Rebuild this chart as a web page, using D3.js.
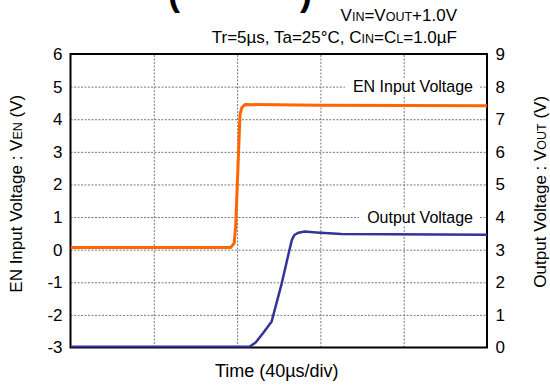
<!DOCTYPE html>
<html>
<head>
<meta charset="utf-8">
<script src="https://cdn.jsdelivr.net/npm/d3@7"></script>
<style>
  body { margin: 0; background: #fff; }
  svg { font-family: "Liberation Sans", Arial, sans-serif; }
</style>
</head>
<body>
<div class="chart"></div>
<script>
// time axis (us), 40us/div
var timeTicks = [0, 40, 80, 120, 160, 200];
var enTicks = [-3, -2, -1, 0, 1, 2, 3, 4, 5, 6];
var outTicks = [0, 1, 2, 3, 4, 5, 6, 7, 8, 9];

// EN input voltage (left axis)
var enTime = [0, 77, 78.6, 79.3, 81.4, 82.3, 83.8, 120, 200];
var enVolt = [0.07, 0.07, 0.2, 0.7, 4.15, 4.36, 4.45, 4.43, 4.41];

// output voltage (right axis)
var outTime = [0, 86, 89, 92.6, 96.6, 101.4, 105.1, 106.3, 107.5, 109.5, 112.5, 118, 130, 200];
var outVolt = [0.02, 0.02, 0.16, 0.45, 0.8, 1.96, 2.98, 3.3, 3.45, 3.52, 3.56, 3.53, 3.48, 3.46];

var svgWidth = 550;
var svgHeight = 385;

var margin = {
  top: 54,
  right: 63,
  bottom: 37.5,
  left: 70.5
};

var width = svgWidth - margin.left - margin.right;
var height = svgHeight - margin.top - margin.bottom;

var svg = d3.select(".chart")
  .append("svg")
  .attr("width", svgWidth)
  .attr("height", svgHeight);

// cut-off title at the very top
svg.append("text")
  .attr("x", 168).attr("y", 5)
  .attr("font-size", 36).attr("font-weight", "bold")
  .text("(");
svg.append("text")
  .attr("x", 312).attr("y", 5)
  .attr("text-anchor", "end")
  .attr("font-size", 36).attr("font-weight", "bold")
  .text(")");

// conditions
var cond1 = svg.append("text")
  .attr("x", 457).attr("y", 21)
  .attr("text-anchor", "end")
  .attr("font-size", 17);
cond1.append("tspan").text("V");
cond1.append("tspan").attr("font-size", 12.5).text("IN");
cond1.append("tspan").text("=V");
cond1.append("tspan").attr("font-size", 12.5).text("OUT");
cond1.append("tspan").text("+1.0V");

var cond2 = svg.append("text")
  .attr("x", 457).attr("y", 43)
  .attr("text-anchor", "end")
  .attr("font-size", 17);
cond2.append("tspan").text("Tr=5µs, Ta=25°C, C");
cond2.append("tspan").attr("font-size", 12.5).text("IN");
cond2.append("tspan").text("=C");
cond2.append("tspan").attr("font-size", 12.5).text("L");
cond2.append("tspan").text("=1.0µF");

var chartGroup = svg.append("g")
  .attr("transform", `translate(${margin.left}, ${margin.top})`);

var xScale = d3.scaleLinear().domain([0, 200]).range([0, width]);
var yLeft = d3.scaleLinear().domain([-3, 6]).range([height, 0]);
var yRight = d3.scaleLinear().domain([0, 9]).range([height, 0]);

// grid
chartGroup.append("g")
  .attr("class", "grid")
  .call(d3.axisLeft(yLeft).tickValues(enTicks.slice(1, -1)).tickSize(-width).tickFormat(""))
  .call(g => g.select(".domain").remove());
chartGroup.append("g")
  .attr("class", "grid")
  .attr("transform", `translate(0, ${height})`)
  .call(d3.axisBottom(xScale).tickValues(timeTicks.slice(1, -1)).tickSize(-height).tickFormat(""))
  .call(g => g.select(".domain").remove());
chartGroup.selectAll(".grid line")
  .attr("stroke", "#777")
  .attr("stroke-width", 1)
  .attr("stroke-dasharray", "2,1.5");

// tick labels (plain hyphen for negatives)
chartGroup.append("g")
  .call(d3.axisLeft(yLeft).tickValues(enTicks).tickSize(0).tickPadding(8).tickFormat(d => String(d)))
  .call(g => g.select(".domain").remove())
  .selectAll("text").attr("font-size", 17).attr("font-family", null).attr("fill", "#000");
chartGroup.append("g")
  .attr("transform", `translate(${width}, 0)`)
  .call(d3.axisRight(yRight).tickValues(outTicks).tickSize(0).tickPadding(8.5).tickFormat(d => String(d)))
  .call(g => g.select(".domain").remove())
  .selectAll("text").attr("font-size", 17).attr("font-family", null).attr("fill", "#000");

// series labels with white boxes over the grid
function seriesLabel(txt, v) {
  var t = chartGroup.append("text")
    .attr("x", width - 14)
    .attr("y", yLeft(v))
    .attr("dy", "0.35em")
    .attr("text-anchor", "end")
    .attr("font-size", 16)
    .text(txt);
  var bb = t.node().getBBox();
  chartGroup.insert("rect", function () { return t.node(); })
    .attr("x", bb.x - 8).attr("y", bb.y)
    .attr("width", bb.width + 14).attr("height", bb.height)
    .attr("fill", "#fff");
}
seriesLabel("EN Input Voltage", 5);
seriesLabel("Output Voltage", 1);

// frame
chartGroup.append("rect")
  .attr("width", width).attr("height", height)
  .attr("fill", "none")
  .attr("stroke", "#000")
  .attr("stroke-width", 2);

// curves
chartGroup.append("clipPath").attr("id", "plotClip")
  .append("rect").attr("width", width).attr("height", height);

var enLine = d3.line()
  .x((d, i) => xScale(enTime[i]))
  .y(d => yLeft(d));
var outLine = d3.line()
  .x((d, i) => xScale(outTime[i]))
  .y(d => yRight(d));

chartGroup.append("path")
  .datum(outVolt)
  .attr("clip-path", "url(#plotClip)")
  .attr("d", outLine)
  .attr("fill", "none")
  .attr("stroke", "#333399")
  .attr("stroke-width", 2.5)
  .attr("stroke-linejoin", "round");

chartGroup.append("path")
  .datum(enVolt)
  .attr("clip-path", "url(#plotClip)")
  .attr("d", enLine)
  .attr("fill", "none")
  .attr("stroke", "#ff6600")
  .attr("stroke-width", 3)
  .attr("stroke-linejoin", "round");

// axis titles
var leftTitle = svg.append("text")
  .attr("transform", `translate(22, ${margin.top + height / 2 - 7}) rotate(-90)`)
  .attr("text-anchor", "middle")
  .attr("font-size", 17);
leftTitle.append("tspan").text("EN Input Voltage : V");
leftTitle.append("tspan").attr("font-size", 12.5).text("EN");
leftTitle.append("tspan").text(" (V)");

var rightTitle = svg.append("text")
  .attr("transform", `translate(546, ${margin.top + height / 2 - 9}) rotate(-90)`)
  .attr("text-anchor", "middle")
  .attr("font-size", 17);
rightTitle.append("tspan").text("Output Voltage : V");
rightTitle.append("tspan").attr("font-size", 12.5).text("OUT");
rightTitle.append("tspan").text(" (V)");

svg.append("text")
  .attr("x", margin.left + width / 2 - 2)
  .attr("y", 377)
  .attr("text-anchor", "middle")
  .attr("font-size", 18)
  .text("Time (40µs/div)");
</script>
</body>
</html>
